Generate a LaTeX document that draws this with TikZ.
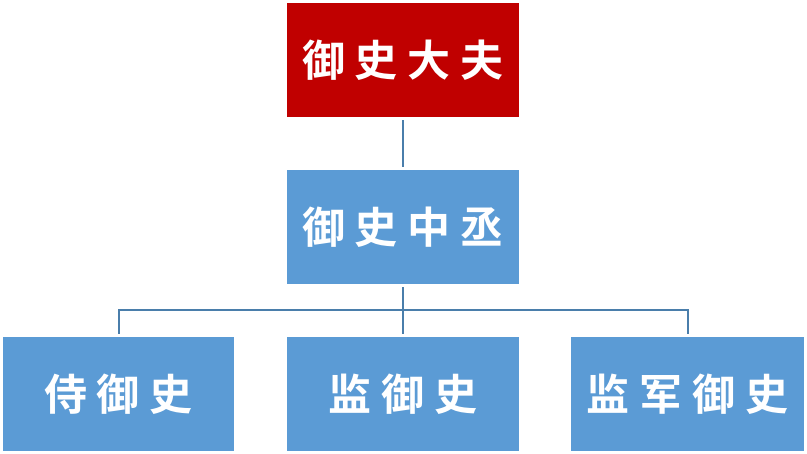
\documentclass[tikz,border=0pt]{standalone}
\usepackage{fontspec}
\newfontfamily\cjk{Noto Sans CJK SC Bold}
\definecolor{boxred}{HTML}{C00000}
\definecolor{boxblue}{HTML}{5B9BD5}
\definecolor{linkblue}{HTML}{4A7EAB}
\newcommand{\spc}{\hspace{10pt}}
\newcommand{\up}[1]{\raisebox{4pt}{#1}}
\begin{document}
\begin{tikzpicture}[x=1pt,y=-1pt,
  office/.style={minimum width=232pt,minimum height=114pt,inner sep=0pt,
    text=white,font=\cjk\fontsize{43}{47}\selectfont},
  link/.style={draw=linkblue,line width=2pt}]
\useasboundingbox (0,0) rectangle (807,454);
\node[office,fill=boxred]  (top) at (403,60)  {\up{御\spc 史\spc 大\spc 夫}};
\node[office,fill=boxblue] (mid) at (403,227) {\up{御\spc 史\spc 中\spc 丞}};
\node[office,fill=boxblue,minimum width=231pt] (l) at (118.5,394) {\up{侍\spc 御\spc 史}};
\node[office,fill=boxblue] (m) at (403,394) {\up{监\spc 御\spc 史}};
\node[office,fill=boxblue,minimum width=233pt] (r) at (687.5,394) {\up{监\spc 军\spc 御\spc 史}};
\coordinate (j) at (403,310);
\draw[link] ([yshift=-3pt]top.south) -- ([yshift=3pt]mid.north);
\draw[link] ([yshift=-3pt]mid.south) -- (j);
\draw[link] ([yshift=3pt]l.north) |- (j) -| ([yshift=3pt]r.north);
\draw[link] (j) -- ([yshift=3pt]m.north);
\end{tikzpicture}
\end{document}
